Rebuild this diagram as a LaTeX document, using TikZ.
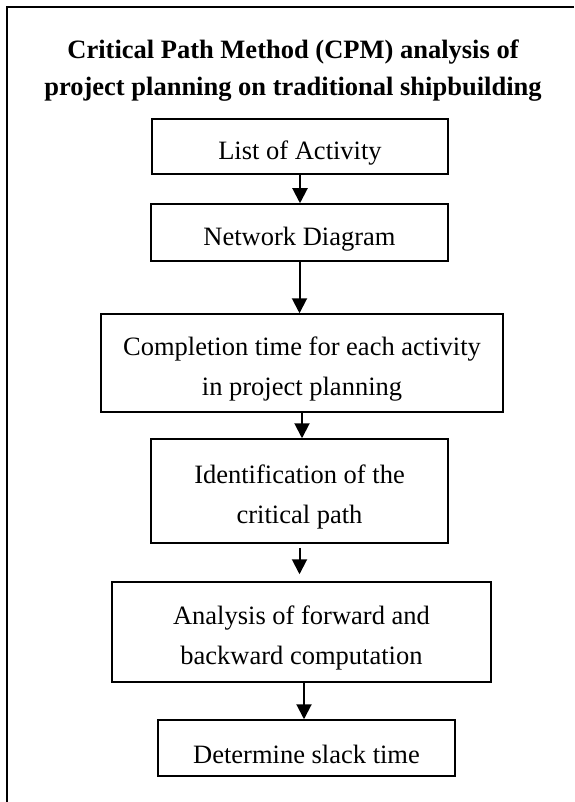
\documentclass[tikz,border=0pt]{standalone}
\usepackage{fontspec}
\setmainfont{Liberation Serif}
\usetikzlibrary{arrows.meta}

\tikzset{
  stepbox/.style={draw, line width=1.5pt, align=center, inner sep=0pt,
    font={\fontsize{26.5}{40}\selectfont},
    execute at begin node={\rule{0pt}{#1}}},
  stepbox/.default=32pt,
  flow/.style={line width=2pt, -{Triangle[width=15pt,length=15pt]}}
}

\begin{document}
\begin{tikzpicture}[x=1pt, y=-1pt]
\useasboundingbox (0,0) rectangle (574,802);
% outer frame (open on the right and bottom)
\draw[line width=2pt] (574,7) -- (7,7) -- (7,802);

% title
\node[align=center, font={\fontsize{26.5}{37}\selectfont\bfseries}] (title) at (293,71)
  {Critical Path Method (CPM) analysis of\\project planning on traditional shipbuilding};

% steps
\node[stepbox, minimum width=296pt, minimum height=55pt] (list) at (300,146.5) {List of Activity};
\node[stepbox, minimum width=297pt, minimum height=57pt] (network) at (299.5,232.5) {Network Diagram};
\node[stepbox=70pt, minimum width=402pt, minimum height=98pt] (completion) at (302,363)
  {Completion time for each activity\\in project planning};
\node[stepbox=70pt, minimum width=297pt, minimum height=104pt] (critical) at (299.5,491)
  {Identification of the\\critical path};
\node[stepbox=70pt, minimum width=379pt, minimum height=100pt] (analysis) at (301.5,632)
  {Analysis of forward and\\backward computation};
\node[stepbox, minimum width=297pt, minimum height=56pt] (slack) at (306.5,748) {Determine slack time};

% arrows
\draw[flow] (list.south) -- (list.south |- network.north);
\draw[flow] (network.south) -- (network.south |- completion.north);
\draw[flow] (completion.south) -- (completion.south |- critical.north);
\draw[flow, shorten <=4pt, shorten >=7pt] (critical.south) -- (critical.south |- analysis.north);
\draw[flow] ([xshift=2.5pt]analysis.south) -- ([xshift=2.5pt]analysis.south |- slack.north);

\end{tikzpicture}
\end{document}
